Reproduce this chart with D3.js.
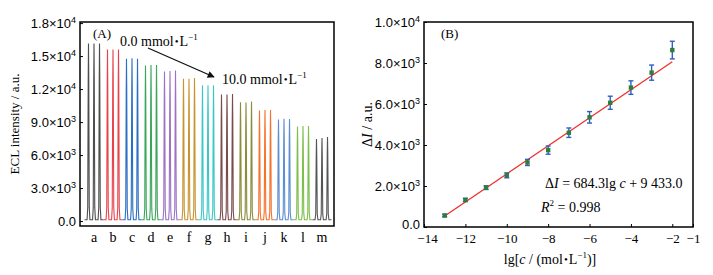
<!DOCTYPE html>
<html>
<head>
<meta charset="utf-8">
<script src="https://cdn.jsdelivr.net/npm/d3@7"></script>
<style>
  body { margin: 0; background: #fff; }
  svg { font-family: "Liberation Serif", "Times New Roman", serif; }
</style>
</head>
<body>
<div class="chart"></div>
<script>
const w = 713;
const h = 275;

// panel A data: three ECL peaks per concentration group
const groups = ["a", "b", "c", "d", "e", "f", "g", "h", "i", "j", "k", "l", "m"];
const peaks = [
  [16150, 16150, 16150],
  [15600, 15600, 15600],
  [14750, 14800, 14750],
  [14150, 14200, 14200],
  [13600, 13650, 13700],
  [12950, 12950, 13000],
  [12350, 12350, 12350],
  [11500, 11500, 11550],
  [10800, 10780, 10880],
  [10050, 10100, 10100],
  [9230, 9300, 9280],
  [8600, 8640, 8640],
  [7450, 7550, 7640]
];
const groupColors = ["#4d4d4d", "#e8434b", "#2a6ec5", "#3aa65a", "#9b72c6", "#c89432",
  "#3cc6c6", "#7b4b4b", "#8c8c3c", "#f5712c", "#5d8fcf", "#7cbf4b", "#555555"];
const yTicksA = [0, 3000, 6000, 9000, 12000, 15000, 18000];
const yTickLabelsA = [["0.0", ""], ["3.0×10", "3"], ["6.0×10", "3"], ["9.0×10", "3"],
  ["1.2×10", "4"], ["1.5×10", "4"], ["1.8×10", "4"]];

// panel B data: calibration points
const lgC = [-13, -12, -11, -10, -9, -8, -7, -6, -5, -4, -3, -2];
const deltaI = [560, 1320, 1920, 2520, 3150, 3750, 4600, 5350, 6060, 6800, 7530, 8630];
const errs = [60, 80, 90, 120, 150, 200, 230, 280, 320, 330, 370, 430];
const slope = 684.3;
const intercept = 9433.0;
const xTicksB = [-14, -12, -10, -8, -6, -4, -2, -1];
const yTicksB = [0, 2000, 4000, 6000, 8000, 10000];
const yTickLabelsB = [["0.0", ""], ["2.0×10", "3"], ["4.0×10", "3"], ["6.0×10", "3"],
  ["8.0×10", "3"], ["1.0×10", "4"]];

const svg = d3.select(".chart").append("svg")
  .attr("width", w)
  .attr("height", h);

svg.append("rect").attr("width", w).attr("height", h).attr("fill", "#fff");

function sciLabel(sel, lab) {
  sel.text(null);
  sel.append("tspan").text(lab[0]);
  if (lab[1]) {
    sel.append("tspan").attr("dy", -5).attr("font-size", 9).text(lab[1]);
  }
}

// ---------- Panel A ----------
const A = { left: 80, right: 334, top: 22, bottom: 226 };

const xBand = d3.scaleBand().domain(groups).range([84.5, 331.5]);
const yA = d3.scaleLinear().domain([-450, 18100]).range([A.bottom, A.top]);

const baseLevel = 120;
const peakPos = [0.21, 0.5, 0.79];
const profOff = [-0.075, -0.04, -0.014, 0, 0.014, 0.04, 0.075];
const profRel = [0, 0.07, 0.8, 1, 0.8, 0.07, 0];

const line = d3.line().x(d => d[0]).y(d => d[1]);

groups.forEach((g, gi) => {
  const inner = d3.scaleLinear().domain([0, 1]).range([xBand(g), xBand(g) + xBand.bandwidth()]);
  const pts = [[inner(0), yA(baseLevel)]];
  peaks[gi].forEach((pk, pi) => {
    profOff.forEach((o, k) => {
      const v = profRel[k] === 0 ? baseLevel : baseLevel + (pk - baseLevel) * profRel[k];
      pts.push([inner(peakPos[pi] + o), yA(v)]);
    });
  });
  pts.push([inner(1), yA(baseLevel)]);
  svg.append("path")
    .attr("d", line(pts))
    .attr("fill", "none")
    .attr("stroke", groupColors[gi])
    .attr("stroke-width", 1.1);
});

const yAxisA = d3.axisLeft(yA).tickValues(yTicksA).tickSize(-3).tickPadding(5).tickFormat("");
const gyA = svg.append("g").attr("transform", `translate(${A.left},0)`).call(yAxisA);
gyA.select(".domain").remove();
gyA.selectAll("line").attr("stroke", "#000");
gyA.selectAll(".tick text").remove();
gyA.selectAll(".tick").append("text")
  .attr("x", -4).attr("dy", "0.35em")
  .attr("text-anchor", "end").attr("fill", "#000").attr("font-size", 13)
  .each(function (d, i) { sciLabel(d3.select(this), yTickLabelsA[i]); });

svg.selectAll(".xlabA").data(groups).enter().append("text")
  .attr("x", d => xBand(d) + xBand.bandwidth() / 2)
  .attr("y", 242)
  .attr("text-anchor", "middle")
  .attr("font-size", 14)
  .text(d => d);

svg.append("rect")
  .attr("x", A.left).attr("y", A.top)
  .attr("width", A.right - A.left).attr("height", A.bottom - A.top)
  .attr("fill", "none").attr("stroke", "#000").attr("stroke-width", 1.5);

svg.append("text")
  .attr("transform", `translate(19,${(A.top + A.bottom) / 2}) rotate(-90)`)
  .attr("text-anchor", "middle").attr("font-size", 13)
  .text("ECL intensity / a.u.");

svg.append("text").attr("x", 93).attr("y", 38).attr("font-size", 13).text("(A)");

function concLabel(x, y, val) {
  const t = svg.append("text").attr("x", x).attr("y", y).attr("font-size", 14);
  t.append("tspan").text(val + " mmol");
  t.append("tspan").attr("font-size", 11).attr("dx", 1).attr("dy", -1).text("•");
  t.append("tspan").attr("dx", 1).attr("dy", 1).text("L");
  t.append("tspan").attr("font-size", 9).attr("dy", -6).text("−1");
}
concLabel(120, 46, "0.0");
concLabel(222, 84, "10.0");

svg.append("defs").append("marker")
  .attr("id", "arr").attr("viewBox", "0 0 10 10")
  .attr("refX", 9).attr("refY", 5)
  .attr("markerWidth", 9).attr("markerHeight", 7)
  .attr("markerUnits", "userSpaceOnUse")
  .attr("orient", "auto")
  .append("path").attr("d", "M0,0 L10,5 L0,10 Z").attr("fill", "#111");

svg.append("line")
  .attr("x1", 148).attr("y1", 48).attr("x2", 214).attr("y2", 77)
  .attr("stroke", "#111").attr("stroke-width", 1.3)
  .attr("marker-end", "url(#arr)");

// ---------- Panel B ----------
const B = { left: 424, right: 693, top: 22, bottom: 227 };
const xB = d3.scaleLinear().domain([-14, -1]).range([B.left, B.right]);
const yB = d3.scaleLinear().domain([0, 10000]).range([B.bottom, B.top]);

const xAxisB = d3.axisBottom(xB).tickValues(xTicksB).tickSize(-3).tickPadding(7)
  .tickFormat(d => "−" + Math.abs(d));
const gxB = svg.append("g").attr("transform", `translate(0,${B.bottom})`).call(xAxisB);
gxB.select(".domain").remove();
gxB.selectAll("line").attr("stroke", "#000");
gxB.selectAll("text").attr("font-size", 13).attr("fill", "#000")
  .attr("font-family", "Liberation Serif, serif");
gxB.selectAll(".tick text").filter(d => d === -14).attr("dx", 3);

const yAxisB = d3.axisLeft(yB).tickValues(yTicksB).tickSize(-3).tickFormat("");
const gyB = svg.append("g").attr("transform", `translate(${B.left},0)`).call(yAxisB);
gyB.select(".domain").remove();
gyB.selectAll("line").attr("stroke", "#000");
gyB.selectAll(".tick text").remove();
gyB.selectAll(".tick").append("text")
  .attr("x", -4).attr("y", d => d === 0 ? -3 : 0).attr("dy", "0.35em")
  .attr("text-anchor", "end").attr("fill", "#000").attr("font-size", 13)
  .each(function (d, i) { sciLabel(d3.select(this), yTickLabelsB[i]); });

// fit line
svg.append("line")
  .attr("x1", xB(lgC[0])).attr("y1", yB(slope * lgC[0] + intercept))
  .attr("x2", xB(lgC[lgC.length - 1])).attr("y2", yB(slope * lgC[lgC.length - 1] + intercept))
  .attr("stroke", "#f0302a").attr("stroke-width", 1.3);

// error bars
const eb = svg.append("g").attr("stroke", "#2f5fc4").attr("stroke-width", 1.4);
lgC.forEach((x, i) => {
  const cx = xB(x);
  const y1 = yB(deltaI[i] + errs[i]);
  const y2 = yB(deltaI[i] - errs[i]);
  eb.append("line").attr("x1", cx).attr("x2", cx).attr("y1", y1).attr("y2", y2);
  eb.append("line").attr("x1", cx - 2.5).attr("x2", cx + 2.5).attr("y1", y1).attr("y2", y1);
  eb.append("line").attr("x1", cx - 2.5).attr("x2", cx + 2.5).attr("y1", y2).attr("y2", y2);
});

svg.selectAll(".pt").data(lgC).enter().append("rect")
  .attr("x", d => xB(d) - 2.2)
  .attr("y", (d, i) => yB(deltaI[i]) - 2.2)
  .attr("width", 4.4).attr("height", 4.4)
  .attr("fill", "#2e7d3a");

svg.append("rect")
  .attr("x", B.left).attr("y", B.top)
  .attr("width", B.right - B.left).attr("height", B.bottom - B.top)
  .attr("fill", "none").attr("stroke", "#000").attr("stroke-width", 1.5);

svg.append("text").attr("x", 441).attr("y", 38).attr("font-size", 13).text("(B)");

const eq = svg.append("text").attr("x", 545).attr("y", 188).attr("font-size", 14);
eq.append("tspan").text("Δ");
eq.append("tspan").attr("font-style", "italic").text("I");
eq.append("tspan").text(" = 684.3lg ");
eq.append("tspan").attr("font-style", "italic").text("c");
eq.append("tspan").text(" + 9 433.0");

const r2 = svg.append("text").attr("x", 541).attr("y", 212).attr("font-size", 14);
r2.append("tspan").attr("font-style", "italic").text("R");
r2.append("tspan").attr("font-size", 9).attr("dy", -6).text("2");
r2.append("tspan").attr("dy", 6).text(" = 0.998");

const xl = svg.append("text").attr("x", 550).attr("y", 264)
  .attr("text-anchor", "middle").attr("font-size", 14);
xl.append("tspan").text("lg[");
xl.append("tspan").attr("font-style", "italic").text("c");
xl.append("tspan").text(" / (mol");
xl.append("tspan").attr("font-size", 11).attr("dx", 1).attr("dy", -1).text("•");
xl.append("tspan").attr("dx", 1).attr("dy", 1).text("L");
xl.append("tspan").attr("font-size", 9).attr("dy", -6).text("−1");
xl.append("tspan").attr("dy", 6).text(")]");

const yl = svg.append("text")
  .attr("transform", `translate(372,${(B.top + B.bottom) / 2}) rotate(-90)`)
  .attr("text-anchor", "middle").attr("font-size", 14);
yl.append("tspan").text("Δ");
yl.append("tspan").attr("font-style", "italic").text("I");
yl.append("tspan").text(" / a.u.");
</script>
</body>
</html>
